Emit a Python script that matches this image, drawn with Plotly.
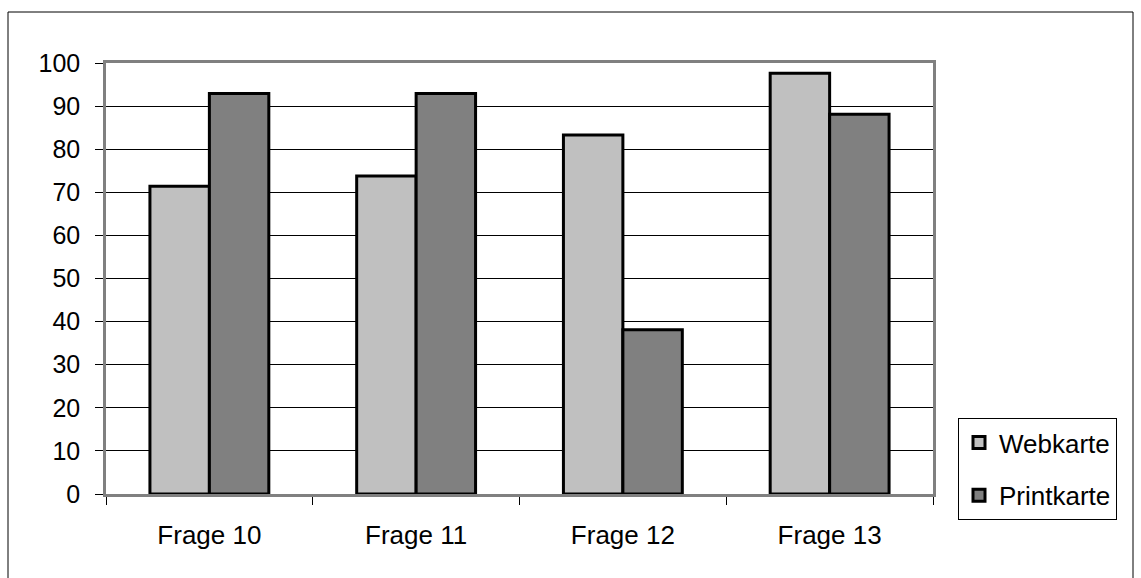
import plotly.graph_objects as go

categories = ["Frage 10", "Frage 11", "Frage 12", "Frage 13"]
webkarte = [71.4, 73.8, 83.3, 97.6]
printkarte = [92.9, 92.9, 38.1, 88.1]
y_ticks = list(range(0, 101, 10))

W, H = 1141, 578
L, R, T, B = 106, 208, 63, 84
pw, ph = W - L - R, H - T - B


def px_x(x):
    return (x - L) / pw


def px_y(y):
    return (H - B - y) / ph


fig = go.Figure()
fig.add_trace(go.Bar(
    x=categories, y=webkarte, name="Webkarte", legendgroup="web",
    marker=dict(color="#C0C0C0", line=dict(color="black", width=3)),
))
fig.add_trace(go.Bar(
    x=categories, y=printkarte, name="Printkarte", legendgroup="print",
    marker=dict(color="#808080", line=dict(color="black", width=3)),
))

font = "Liberation Sans, Arial, sans-serif"

fig.update_layout(
    width=W, height=H,
    margin=dict(l=L, r=R, t=T, b=B, pad=0),
    paper_bgcolor="white", plot_bgcolor="white",
    barmode="group", bargap=0.425, bargroupgap=0,
    font=dict(family=font, size=26, color="black"),
    showlegend=True,
    legend=dict(
        x=px_x(958), y=px_y(418), xanchor="left", yanchor="top",
        bordercolor="black", borderwidth=1, bgcolor="white",
        font=dict(size=26, family=font, color="black"),
        traceorder="grouped", tracegroupgap=16,
        itemwidth=30,
    ),
    xaxis=dict(
        type="category", tickson="boundaries",
        ticks="outside", ticklen=8, tickcolor="black", tickwidth=1,
        showline=True, linecolor="#808080", linewidth=2.5, mirror=True,
        showgrid=False, tickfont=dict(size=26), ticklabelstandoff=16,
    ),
    yaxis=dict(
        range=[0, 100], tickvals=y_ticks,
        ticks="outside", ticklen=8, tickcolor="black", tickwidth=1,
        showline=True, linecolor="#808080", linewidth=2.5, mirror=True,
        showgrid=True, gridcolor="black", gridwidth=1,
        zeroline=False, tickfont=dict(size=25), ticklabelstandoff=10,
    ),
    shapes=[dict(
        type="rect", xref="paper", yref="paper",
        x0=px_x(8), x1=px_x(1133), y0=px_y(600), y1=px_y(12),
        line=dict(color="black", width=1), fillcolor="rgba(0,0,0,0)",
        layer="below",
    )],
)

fig.write_html("out.html")
